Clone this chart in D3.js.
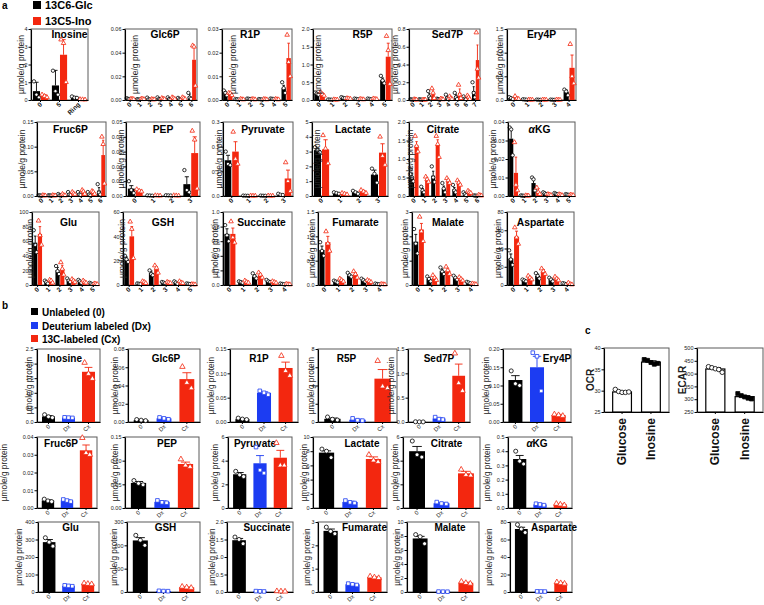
<!DOCTYPE html>
<html><head><meta charset="utf-8">
<script src="https://cdn.jsdelivr.net/npm/d3@7"></script>
<style>body{margin:0;background:#fff}svg{display:block}</style>
</head><body><svg id="c" width="764" height="605"></svg>
<script>
// ---------------- DATA ----------------
// panel a: rows = [isotopologue, 13C6-Glc mean, sem, points, 13C5-Ino mean, sem, points]
const aNames = ["Inosine","Glc6P","R1P","R5P","Sed7P","Ery4P","Fruc6P","PEP","Pyruvate","Lactate","Citrate","αKG","Glu","GSH","Succinate","Fumarate","Malate","Aspartate"];
const aYMax  = [4,0.06,0.03,2,0.8,1.5,0.15,0.05,0.3,5,2,0.04,100,60,1,1.5,3,80];
const aYStep = [1,0.02,0.01,0.5,0.2,0.5,0.05,0.01,0.1,1,0.5,0.01,20,20,0.2,0.5,1,20];
const aSeries = ["13C6-Glc","13C5-Ino"];

const a_Inosine = [
["0",0.5,0.5,[1.05,0.3,0.15],0.22,0.08,[0.3,0.22,0.15]],
["5",0.82,0.85,[1.65,0.5,0.3],2.55,0.85,[3.4,3.2,1.0]],
["Ring",0.15,0.05,[0.2,0.13,0.12],0.03,0.01,[0.04,0.03,0.02]]];
const a_Glc6P = [
["0",0.001,0.0003,[0.0015,0.001,0.0008],0.0008,0.0002,[0.001,0.0008,0.0006]],
["1",0.0005,0.0001,[0.0006,0.0005,0.0004],0.0008,0.0002,[0.001,0.0008,0.0006]],
["2",0.0008,0.0004,[0.002,0.0006,0.0004],0.0005,0.0001,[0.0007,0.0005,0.0004]],
["3",0.001,0.0005,[0.0022,0.0008,0.0005],0.001,0.0004,[0.0016,0.001,0.0006]],
["4",0.001,0.0005,[0.0022,0.0008,0.0005],0.0015,0.0005,[0.0022,0.0015,0.0008]],
["5",0.001,0.0004,[0.0018,0.0008,0.0005],0.0015,0.0005,[0.0022,0.0015,0.0008]],
["6",0.003,0.002,[0.006,0.002,0.001],0.034,0.011,[0.046,0.045,0.012]]];
const a_R1P = [
["0",0.003,0.0007,[0.004,0.003,0.002],0.0025,0.0004,[0.003,0.0028,0.002]],
["1",0.0003,0.0001,[0.0004,0.0003,0.0002],0.0003,0.0001,[0.0004,0.0003,0.0002]],
["2",0.0005,0.0001,[0.0006,0.0005,0.0004],0.0003,0.0001,[0.0004,0.0003,0.0002]],
["3",0.0003,0.0001,[0.0004,0.0003,0.0002],0.0003,0.0001,[0.0004,0.0003,0.0002]],
["4",0.0005,0.0001,[0.0006,0.0005,0.0004],0.0003,0.0001,[0.0004,0.0003,0.0002]],
["5",0.005,0.0012,[0.0075,0.005,0.003],0.0177,0.0063,[0.0275,0.016,0.01]]];
const a_R5P = [
["0",0.18,0.02,[0.21,0.18,0.15],0.17,0.03,[0.22,0.16,0.12]],
["1",0.01,0.003,[0.015,0.01,0.008],0.01,0.003,[0.015,0.01,0.008]],
["2",0.06,0.01,[0.08,0.06,0.05],0.04,0.01,[0.05,0.04,0.03]],
["3",0.03,0.008,[0.04,0.03,0.02],0.02,0.005,[0.03,0.02,0.015]],
["4",0.03,0.008,[0.04,0.03,0.02],0.03,0.008,[0.04,0.03,0.02]],
["5",0.56,0.06,[0.68,0.55,0.47],1.22,0.38,[1.8,1.4,0.45]]];
const a_Sed7P = [
["0",0.005,0.002,[0.008,0.005,0.003],0.005,0.002,[0.008,0.005,0.003]],
["1",0.005,0.002,[0.008,0.005,0.003],0.003,0.001,[0.004,0.003,0.002]],
["2",0.05,0.025,[0.1,0.04,0.02],0.07,0.03,[0.13,0.08,0.02]],
["3",0.01,0.003,[0.015,0.01,0.006],0.01,0.003,[0.015,0.01,0.006]],
["4",0.03,0.015,[0.06,0.02,0.01],0.02,0.01,[0.04,0.02,0.01]],
["5",0.04,0.02,[0.08,0.03,0.01],0.08,0.045,[0.17,0.06,0.02]],
["6",0.02,0.01,[0.04,0.015,0.008],0.03,0.012,[0.05,0.03,0.01]],
["7",0.1,0.05,[0.2,0.08,0.03],0.45,0.17,[0.76,0.35,0.25]]];
const a_Ery4P = [
["0",0.04,0.01,[0.06,0.04,0.02],0.04,0.02,[0.08,0.03,0.02]],
["1",0.01,0.003,[0.015,0.01,0.006],0.005,0.002,[0.008,0.005,0.003]],
["2",0.005,0.002,[0.008,0.005,0.003],0.005,0.002,[0.008,0.005,0.003]],
["3",0.005,0.002,[0.008,0.005,0.003],0.005,0.002,[0.008,0.005,0.003]],
["4",0.17,0.04,[0.22,0.18,0.1],0.68,0.27,[1.18,0.5,0.35]]];
const a_Fruc6P = [
["0",0.001,0.0003,[0.0015,0.001,0.0008],0.001,0.0003,[0.0015,0.001,0.0008]],
["1",0.001,0.0003,[0.0015,0.001,0.0008],0.001,0.0003,[0.0015,0.001,0.0008]],
["2",0.002,0.001,[0.004,0.0015,0.001],0.002,0.001,[0.004,0.0015,0.001]],
["3",0.004,0.002,[0.008,0.003,0.002],0.005,0.0015,[0.008,0.005,0.003]],
["4",0.004,0.002,[0.008,0.003,0.002],0.008,0.002,[0.012,0.009,0.004]],
["5",0.004,0.002,[0.008,0.003,0.001],0.007,0.002,[0.01,0.008,0.004]],
["6",0.011,0.006,[0.024,0.007,0.003],0.083,0.03,[0.12,0.105,0.025]]];
const a_PEP = [
["0",0.005,0.002,[0.01,0.004,0.002],0.0035,0.0005,[0.0045,0.0035,0.003]],
["1",0.0003,0.0001,[0.0004,0.0003,0.0002],0.0003,0.0001,[0.0004,0.0003,0.0002]],
["2",0.0004,0.0001,[0.0005,0.0004,0.0003],0.0003,0.0001,[0.0004,0.0003,0.0002]],
["3",0.008,0.005,[0.0175,0.004,0.0025],0.029,0.011,[0.044,0.038,0.005]]];
const a_Pyruvate = [
["0",0.145,0.02,[0.18,0.13,0.125],0.18,0.04,[0.26,0.15,0.13]],
["1",0.001,0.0003,[0.0015,0.001,0.0008],0.001,0.0003,[0.0015,0.001,0.0008]],
["2",0.001,0.0003,[0.0015,0.001,0.0008],0.001,0.0003,[0.0015,0.001,0.0008]],
["3",0.006,0.002,[0.009,0.005,0.004],0.071,0.034,[0.136,0.06,0.02]]];
const a_Lactate = [
["0",3.1,0.1,[3.3,3.1,2.95],3.15,0.65,[4.1,3.2,2.2]],
["1",0.2,0.03,[0.25,0.2,0.15],0.15,0.03,[0.2,0.15,0.1]],
["2",0.25,0.05,[0.35,0.25,0.15],0.3,0.05,[0.4,0.3,0.2]],
["3",1.45,0.3,[1.85,1.5,0.9],2.93,0.6,[4.0,2.7,2.1]]];
const a_Citrate = [
["0",0.52,0.1,[0.72,0.5,0.4],1.37,0.1,[1.62,1.35,1.2]],
["1",0.15,0.05,[0.25,0.15,0.1],0.45,0.04,[0.52,0.45,0.38]],
["2",0.55,0.12,[0.8,0.5,0.38],1.37,0.15,[1.62,1.4,1.05]],
["3",0.2,0.07,[0.35,0.2,0.1],0.4,0.04,[0.48,0.42,0.35]],
["4",0.18,0.05,[0.3,0.15,0.1],0.35,0.04,[0.42,0.36,0.3]],
["5",0.05,0.02,[0.1,0.05,0.02],0.1,0.015,[0.14,0.1,0.08]],
["6",0.01,0.003,[0.015,0.01,0.006],0.02,0.005,[0.03,0.02,0.01]]];
const a_aKG = [
["0",0.031,0.005,[0.037,0.036,0.022],0.0125,0.0085,[0.029,0.006,0.003]],
["1",0.0002,0.0001,[0.0003,0.0002,0.0001],0.0002,0.0001,[0.0003,0.0002,0.0001]],
["2",0.007,0.002,[0.01,0.009,0.003],0.002,0.002,[0.0045,0.002,0.001]],
["3",0.0015,0.0004,[0.002,0.0015,0.001],0.0007,0.0002,[0.001,0.0007,0.0005]],
["4",0.0012,0.0003,[0.0016,0.0012,0.0009],0.0006,0.0002,[0.0009,0.0006,0.0004]],
["5",0.0008,0.0002,[0.001,0.0008,0.0006],0.0005,0.0001,[0.0007,0.0005,0.0004]]];
const a_Glu = [
["0",58,9,[75,55,45],70,10,[88,68,55]],
["1",4,1,[6,4,2],5,1,[7,6,3]],
["2",20,4,[26,19,15],22,5,[31,22,14]],
["3",6,1.5,[9,6,4],6,1,[8,6,4]],
["4",5,1,[7,5,3],4,1,[6,4,3]],
["5",2,0.5,[3,2,1],1.5,0.3,[2,1.5,1]]];
const a_GSH = [
["0",21,2,[24,21,19],40,8,[52,46,22]],
["1",1,0.2,[1.3,1,0.8],2,0.4,[3,2.5,1.5]],
["2",10,1.5,[12,9,8],13,2,[16,14,10]],
["3",2,0.3,[2.5,2,1.5],2,0.3,[2.5,2,1.5]],
["4",2,0.5,[3,2,1],2,0.4,[3,2,1.5]],
["5",1,0.2,[1.3,1,0.8],0.5,0.1,[0.7,0.5,0.4]]];
const a_Succinate = [
["0",0.7,0.07,[0.82,0.68,0.6],0.7,0.08,[0.87,0.65,0.58]],
["1",0.04,0.008,[0.05,0.04,0.03],0.04,0.01,[0.06,0.04,0.03]],
["2",0.12,0.02,[0.16,0.12,0.09],0.13,0.02,[0.17,0.14,0.1]],
["3",0.05,0.01,[0.07,0.05,0.04],0.04,0.008,[0.05,0.04,0.03]],
["4",0.015,0.003,[0.02,0.015,0.01],0.01,0.003,[0.015,0.01,0.007]]];
const a_Fumarate = [
["0",0.72,0.08,[0.88,0.7,0.6],0.88,0.12,[1.1,0.85,0.7]],
["1",0.07,0.01,[0.09,0.07,0.05],0.1,0.015,[0.13,0.1,0.07]],
["2",0.2,0.025,[0.25,0.2,0.17],0.22,0.03,[0.28,0.22,0.15]],
["3",0.1,0.015,[0.13,0.1,0.07],0.08,0.01,[0.1,0.08,0.06]],
["4",0.02,0.005,[0.03,0.02,0.015],0.015,0.004,[0.02,0.015,0.01]]];
const a_Malate = [
["0",1.78,0.3,[2.3,1.7,1.3],2.28,0.25,[2.8,2.2,1.8]],
["1",0.25,0.05,[0.35,0.25,0.15],0.3,0.05,[0.4,0.3,0.2]],
["2",0.58,0.08,[0.72,0.55,0.45],0.6,0.06,[0.75,0.6,0.45]],
["3",0.3,0.04,[0.38,0.3,0.22],0.25,0.03,[0.32,0.25,0.18]],
["4",0.1,0.015,[0.13,0.1,0.07],0.04,0.01,[0.06,0.04,0.03]]];
const a_Aspartate = [
["0",29,5,[38,28,22],53,6,[63,52,45]],
["1",5,0.6,[6,5,4],8,1,[10,8,6]],
["2",10,2,[13,10,7],15,2,[18,15,12]],
["3",6,1,[8,6,4],7,1,[9,7,5]],
["4",1.5,0.4,[2,1.5,1],1.5,0.5,[2.5,1,0.5]]];

// panel b: categories and [mean, sem, points]
const bCats = ["0","Dx","Cx"];
const bSeries = ["Unlabeled (0)","Deuterium labeled (Dx)","13C-labeled (Cx)"];
const bYMax  = [2.5,0.08,0.15,8,1.5,0.2,0.04,0.15,6,10,6,0.5,400,300,2,3,10,80];
const bYStep = [0.5,0.02,0.05,2,0.5,0.05,0.01,0.05,2,2,2,0.1,100,100,0.5,1,2,20];
const b_Inosine = [[0.19,0.03,[0.25,0.18,0.15]],[0.15,0.01,[0.16,0.15,0.14]],[1.72,0.15,[2.03,1.65,1.48]]];
const b_Glc6P = [[0.002,0.0004,[0.0027,0.002,0.0015]],[0.004,0.0006,[0.005,0.004,0.003]],[0.047,0.007,[0.0605,0.043,0.037]]];
const b_R1P = [[0.006,0.001,[0.008,0.006,0.005]],[0.06,0.002,[0.064,0.06,0.056]],[0.111,0.012,[0.136,0.105,0.095]]];
const b_R5P = [[0.35,0.08,[0.55,0.3,0.22]],[0.25,0.06,[0.4,0.2,0.15]],[4.75,1.0,[6.7,3.9,3.7]]];
const b_Sed7P = [[0.003,0.001,[0.005,0.003,0.002]],[0.07,0.015,[0.1,0.06,0.05]],[0.95,0.24,[1.41,0.8,0.64]]];
const b_Ery4P = [[0.115,0.012,[0.14,0.105,0.1]],[0.15,0.03,[0.19,0.18,0.085]],[0.019,0.002,[0.021,0.019,0.017]]];
const b_Fruc6P = [[0.0042,0.0004,[0.005,0.004,0.0036]],[0.0042,0.0003,[0.0048,0.0042,0.0036]],[0.0325,0.003,[0.0395,0.031,0.03]]];
const b_PEP = [[0.053,0.003,[0.058,0.052,0.049]],[0.013,0.002,[0.016,0.012,0.011]],[0.093,0.004,[0.103,0.09,0.087]]];
const b_Pyruvate = [[2.85,0.15,[3.1,2.8,2.65]],[3.78,0.65,[5.15,3.2,2.95]],[4.25,0.62,[5.5,3.6,3.6]]];
const b_Lactate = [[7.8,0.25,[8.3,8.0,7.1]],[0.85,0.1,[1.05,0.8,0.7]],[6.9,0.3,[7.5,6.7,6.5]]];
const b_Citrate = [[4.8,0.4,[5.66,4.5,4.3]],[0.4,0.05,[0.5,0.38,0.34]],[2.93,0.17,[3.25,2.8,2.75]]];
const b_aKG = [[0.345,0.025,[0.4,0.33,0.31]],[0.025,0.003,[0.03,0.025,0.02]],[0.025,0.003,[0.03,0.025,0.02]]];
const b_Glu = [[285,15,[310,285,262]],[35,2,[38,35,33]],[47,2,[50,47,45]]];
const b_GSH = [[221,12,[243,222,200]],[4,0.5,[5,4,3.5]],[20,1.5,[23,20,18]]];
const b_Succinate = [[1.48,0.05,[1.57,1.5,1.38]],[0.02,0.003,[0.025,0.02,0.015]],[0.02,0.004,[0.025,0.02,0.015]]];
const b_Fumarate = [[2.62,0.08,[2.78,2.6,2.5]],[0.33,0.02,[0.36,0.33,0.3]],[0.63,0.02,[0.67,0.63,0.6]]];
const b_Malate = [[7.65,0.3,[8.2,7.9,6.9]],[0.05,0.005,[0.06,0.05,0.04]],[1.32,0.08,[1.48,1.3,1.2]]];
const b_Aspartate = [[72,2,[77,72,68]],[0.6,0.1,[0.7,0.6,0.5]],[10.3,0.5,[11.2,10.2,9.6]]];

// panel c
const cCats = ["Glucose","Inosine"];
const c_OCR = [[29.7,0.15,[30.3,29.8,29.6,29.6,29.7]],[36.7,0.3,[37.3,37.1,36.6,36.2,36.4]]];
const c_ECAR = [[418,5,[427,423,419,416,405]],[310,4,[322,314,309,304,301]]];
const cYMin = [25,250], cYMax = [40,500], cYStep = [5,50];

// ---------------- LAYOUT ----------------
const FONT = "'Liberation Sans', Arial, sans-serif";
const RED = "#f3270f", BLUE = "#1c3cf2", BLK = "#000";
const aData = [a_Inosine,a_Glc6P,a_R1P,a_R5P,a_Sed7P,a_Ery4P,a_Fruc6P,a_PEP,a_Pyruvate,a_Lactate,a_Citrate,a_aKG,a_Glu,a_GSH,a_Succinate,a_Fumarate,a_Malate,a_Aspartate];
const bData = [b_Inosine,b_Glc6P,b_R1P,b_R5P,b_Sed7P,b_Ery4P,b_Fruc6P,b_PEP,b_Pyruvate,b_Lactate,b_Citrate,b_aKG,b_Glu,b_GSH,b_Succinate,b_Fumarate,b_Malate,b_Aspartate];
const aFrames = [[31,88],[125,197],[222,292],[313,392],[409,480],[507,576],[37,106],[126,200],[223,293],[312,388],[409,483],[508,575],[32,99],[123,197],[223,292],[318,387],[412,478],[507,574]];
const aLabelX = [21,135,233,318,395,500,22,121,219,317,410,493,30,122,215,312,405,498];
const aTitleDx = [10,4,-7,10,3,0,-1,0,5,3,-3,-2,3,3,4,3,3,0];
const aRowsY = [[29,100],[122,196],[212,285]], aTitleDy = [9,11,14];
const bFrames = [[37,100],[128,200],[230,298],[318,397],[408,470],[503,571],[37,97],[125,199],[228,292],[313,387],[403,480],[508,572],[38,99],[127,200],[227,293],[318,387],[407,479],[510,572]];
const bLabelX = [29,115,211,311,391,486,4,115,215,304,395,487,19,114,212,307,397,489];
const bTitleDx = [-4,2,-5,-11,0,20,-6,5,-5,12,5,-3,2,2,7,12,7,13];
const bRowsY = [[349,422],[437,508],[522,592]], bTitleDy = [12.5,9.5,8.5];

const svg = d3.select("#c");

function fmtFor(step){ const d = step>=1?0:Math.ceil(-Math.log10(step)-1e-9); return d3.format("."+d+"f"); }

function drawPanel(p){
  const g = svg.append("g");
  const y = d3.scaleLinear().domain([p.ymin,p.ymax]).range([p.y1,p.y0]);
  const x = d3.scaleBand().domain(p.cats).range([p.x0,p.x1]).paddingInner(p.pi).paddingOuter(p.po);
  const sub = d3.scaleBand().domain(d3.range(p.series.length)).range([0,x.bandwidth()]).paddingInner(p.gap);
  g.append("rect").attr("x",p.x0).attr("y",p.y0).attr("width",p.x1-p.x0).attr("height",p.y1-p.y0)
    .attr("fill","none").attr("stroke","#5a5a5a").attr("stroke-width",1);
  p.series.forEach((s,si)=>{
    s.rows.forEach((r,ci)=>{
      const [m,e,pts] = r;
      const bx = x(p.cats[ci]) + sub(si), w = sub.bandwidth(), cx = bx + w/2;
      g.append("line").attr("x1",cx).attr("x2",cx).attr("y1",y(m)).attr("y2",y(m+e)).attr("stroke",s.stroke).attr("stroke-width",0.9);
      g.append("line").attr("x1",cx-w*0.3).attr("x2",cx+w*0.3).attr("y1",y(m+e)).attr("y2",y(m+e)).attr("stroke",s.stroke).attr("stroke-width",0.9);
      g.append("rect").attr("x",bx).attr("y",y(m)).attr("width",w).attr("height",Math.max(0,y(p.ymin)-y(m)))
        .attr("fill",s.fill).attr("stroke",s.barStroke||"none").attr("stroke-width",s.barStroke?1.2:0);
      const n = pts.length;
      pts.forEach((v,k)=>{
        const off = n>1 ? (k-(n-1)/2)*(w*p.spread/(n-1)) : 0;
        g.append("path").attr("d",d3.symbol().type(s.sym).size(p.symSize)())
          .attr("transform",`translate(${cx+off},${y(v)})`)
          .attr("fill",s.ptFill).attr("stroke",s.stroke).attr("stroke-width",0.8);
      });
    });
  });
  // axes
  g.append("g").attr("transform",`translate(0,${p.y1})`)
    .call(d3.axisBottom(x).tickSize(2).tickSizeOuter(0).tickFormat(""))
    .call(a=>{a.select(".domain").attr("stroke","#000").attr("stroke-width",1.1);});
  const nt = Math.round((p.ymax-p.ymin)/p.step);
  const ticks = d3.range(nt+1).map(i=>p.ymin+i*p.step);
  g.append("g").attr("transform",`translate(${p.x0},0)`)
    .call(d3.axisLeft(y).tickValues(ticks).tickFormat(fmtFor(p.step)).tickSize(2.5).tickSizeOuter(0).tickPadding(1))
    .call(a=>{a.select(".domain").attr("stroke","#000").attr("stroke-width",1.1);
      a.attr("font-family",FONT).attr("font-size",p.tickFs);
      a.selectAll("text").attr("fill","#222");});
  // x labels
  p.cats.forEach(c=>{
    const cx = x(c)+x.bandwidth()/2;
    g.append("text").attr("transform",`translate(${cx+p.xlDx},${p.y1+p.xlDy}) rotate(${p.rot})`)
      .attr("text-anchor","end").attr("font-family",FONT).attr("font-size",p.xlFs)
      .attr("font-weight",p.xlW).attr("fill","#111").text(c);
  });
  // y label
  g.append("text").attr("transform",`translate(${p.labelX},${(p.y0+p.y1)/2}) rotate(-90)`)
    .attr("text-anchor","middle").attr("dominant-baseline","central")
    .attr("font-family",FONT).attr("font-size",p.ylFs).attr("font-weight",p.ylW).attr("fill","#222").text(p.ylabel);
  // title
  if(p.title){
    const t = g.append("text").attr("x",(p.x0+p.x1)/2+p.tdx).attr("y",p.y0+p.tdy)
      .attr("text-anchor","middle").attr("font-family",FONT).attr("font-size",p.titleFs).attr("font-weight","bold").attr("fill","#000");
    if(p.title==="αKG"){ t.append("tspan").attr("font-style","italic").text("α"); t.append("tspan").text("KG"); }
    else t.text(p.title);
  }
}

const circ = d3.symbolCircle, tri = d3.symbolTriangle, sq = d3.symbolSquare;

// panel a
aNames.forEach((name,i)=>{
  const rows = aData[i], row = Math.floor(i/6);
  drawPanel({
    x0:aFrames[i][0], x1:aFrames[i][1], y0:aRowsY[row][0], y1:aRowsY[row][1],
    ymin:0, ymax:aYMax[i], step:aYStep[i], cats:rows.map(r=>r[0]),
    series:[
      {fill:BLK, stroke:BLK, ptFill:"#fff", sym:circ, rows:rows.map(r=>[r[1],r[2],r[3]])},
      {fill:RED, stroke:RED, ptFill:"#fff", sym:tri, rows:rows.map(r=>[r[4],r[5],r[6]])}],
    pi:0.2, po:0.1, gap:0.12, spread:0.7, symSize:9,
    tickFs:5.5, xlDx:2, xlDy:5, rot:-45, xlFs:6.5, xlW:"bold",
    labelX:aLabelX[i], ylabel:"µmole/g protein", ylFs:8.5, ylW:"normal",
    title:name, tdx:aTitleDx[i], tdy:aTitleDy[row], titleFs:10.3
  });
});

// panel b
bData.forEach((rows,i)=>{
  const row = Math.floor(i/6);
  const cols = [[BLK,circ],[BLUE,sq],[RED,tri]];
  // one series per category, placed in its own band
  const g = {
    x0:bFrames[i][0], x1:bFrames[i][1], y0:bRowsY[row][0], y1:bRowsY[row][1],
    ymin:0, ymax:bYMax[i], step:bYStep[i], cats:bCats,
    pi:0.35, po:0.25, gap:0, spread:0.7, symSize:13,
    tickFs:5.5, xlDx:2, xlDy:5, rot:-45, xlFs:5.8, xlW:"normal",
    labelX:bLabelX[i], ylabel:"µmole/g protein", ylFs:8.3, ylW:"normal",
    title:aNames[i], tdx:bTitleDx[i], tdy:bTitleDy[row], titleFs:10
  };
  g.series = [{fill:"none", stroke:"none", ptFill:"none", sym:circ, rows:[]}];
  // draw frame/axes with an empty series, then bars per category
  drawPanel(Object.assign({}, g, {series:[{fill:"none",stroke:"none",ptFill:"none",sym:circ,rows:[]}]}));
  const y = d3.scaleLinear().domain([0,bYMax[i]]).range([g.y1,g.y0]);
  const x = d3.scaleBand().domain(bCats).range([g.x0,g.x1]).paddingInner(g.pi).paddingOuter(g.po);
  const gg = svg.append("g");
  rows.forEach((r,ci)=>{
    const [m,e,pts] = r, [col,sym] = cols[ci];
    const bx = x(bCats[ci]), w = x.bandwidth(), cx = bx+w/2;
    gg.append("line").attr("x1",cx).attr("x2",cx).attr("y1",y(m)).attr("y2",y(m+e)).attr("stroke",col).attr("stroke-width",0.9);
    gg.append("line").attr("x1",cx-w*0.3).attr("x2",cx+w*0.3).attr("y1",y(m+e)).attr("y2",y(m+e)).attr("stroke",col).attr("stroke-width",0.9);
    gg.append("rect").attr("x",bx).attr("y",y(m)).attr("width",w).attr("height",Math.max(0,y(0)-y(m))).attr("fill",col);
    pts.forEach((v,k)=>{
      const off = (k-1)*(w*0.3);
      gg.append("path").attr("d",d3.symbol().type(sym).size(g.symSize)())
        .attr("transform",`translate(${cx+off},${y(v)})`).attr("fill","#fff").attr("stroke",col).attr("stroke-width",0.8);
    });
  });
});

// panel c
[["OCR",c_OCR,[604,669],590],["ECAR",c_ECAR,[697,763],682]].forEach(([nm,rows,fr,lx],i)=>{
  drawPanel({
    x0:fr[0], x1:fr[1], y0:348, y1:412, ymin:cYMin[i], ymax:cYMax[i], step:cYStep[i], cats:cCats,
    series:[], pi:0.35, po:0.3, gap:0, spread:0.7, symSize:16,
    tickFs:5.5, xlDx:4, xlDy:6, rot:-90, xlFs:12, xlW:"bold",
    labelX:lx, ylabel:nm, ylFs:10, ylW:"bold", title:null
  });
  const y = d3.scaleLinear().domain([cYMin[i],cYMax[i]]).range([412,348]);
  const x = d3.scaleBand().domain(cCats).range(fr).paddingInner(0.35).paddingOuter(0.3);
  const gg = svg.append("g");
  rows.forEach((r,ci)=>{
    const [m,e,pts] = r, bx = x(cCats[ci]), w = x.bandwidth(), cx = bx+w/2;
    gg.append("rect").attr("x",bx).attr("y",y(m)).attr("width",w).attr("height",y(cYMin[i])-y(m)).attr("fill","#fff").attr("stroke","#000").attr("stroke-width",1.2);
    gg.append("line").attr("x1",cx).attr("x2",cx).attr("y1",y(m)).attr("y2",y(m+e)).attr("stroke","#000").attr("stroke-width",1);
    gg.append("line").attr("x1",cx-w*0.3).attr("x2",cx+w*0.3).attr("y1",y(m+e)).attr("y2",y(m+e)).attr("stroke","#000").attr("stroke-width",1);
    pts.forEach((v,k)=>{
      const off = (k-2)*(w*0.18);
      gg.append("path").attr("d",d3.symbol().type(ci===0?circ:sq).size(16)())
        .attr("transform",`translate(${cx+off},${y(v)})`).attr("fill",ci===0?"#fff":"#000").attr("stroke","#000").attr("stroke-width",0.8);
    });
  });
});

// panel letters and legends
function txt(x,y,s,fs,fw){ return svg.append("text").attr("x",x).attr("y",y).attr("font-family",FONT).attr("font-size",fs).attr("font-weight",fw).attr("fill","#000").text(s); }
txt(2,9,"a",10,"bold");
txt(2,309,"b",10,"bold");
txt(585,334,"c",10,"bold");
const aLeg = [[BLK,9],[RED,25]];
aSeries.forEach((s,i)=>{
  svg.append("rect").attr("x",33).attr("y",aLeg[i][1]-8).attr("width",8).attr("height",8).attr("fill",aLeg[i][0]);
  txt(45,aLeg[i][1],s,11,"bold");
});
const bLegCol = [BLK,BLUE,RED], bLegY = [316,330,343];
bSeries.forEach((s,i)=>{
  svg.append("rect").attr("x",31).attr("y",bLegY[i]-8).attr("width",7).attr("height",7).attr("fill",bLegCol[i]);
  txt(42,bLegY[i],s,10,"bold");
});
</script></body></html>
